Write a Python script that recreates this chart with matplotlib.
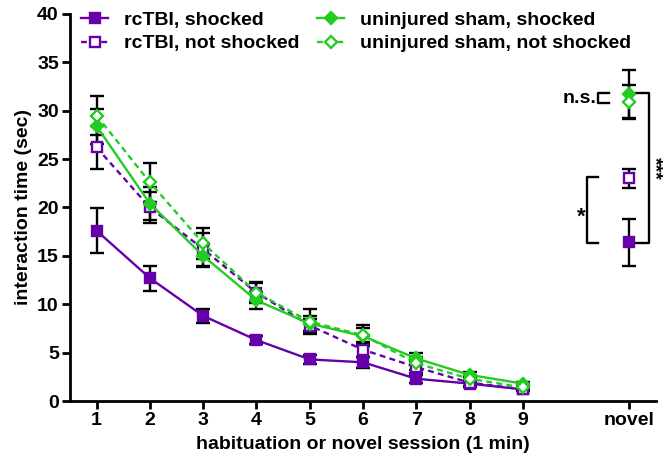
import matplotlib.pyplot as plt

plt.rcParams['font.family'] = ['Liberation Sans', 'DejaVu Sans']
plt.rcParams['font.weight'] = 'bold'

sessions = [1, 2, 3, 4, 5, 6, 7, 8, 9]
novel_pos = 11
tick_labels = ['1', '2', '3', '4', '5', '6', '7', '8', '9', 'novel']

# habituation sessions 1-9, then novel value separately
tbi_shock = [17.6, 12.7, 8.8, 6.3, 4.3, 4.0, 2.3, 1.8, 1.2]
tbi_shock_err = [2.3, 1.3, 0.7, 0.4, 0.5, 0.6, 0.4, 0.3, 0.2]
tbi_shock_novel, tbi_shock_novel_err = 16.4, 2.4

tbi_noshock = [26.2, 20.0, 15.7, 11.2, 7.8, 5.3, 3.5, 1.9, 1.2]
tbi_noshock_err = [2.2, 1.6, 1.7, 1.0, 0.7, 0.8, 0.6, 0.3, 0.2]
tbi_noshock_novel, tbi_noshock_novel_err = 23.0, 1.0

sham_shock = [28.4, 20.4, 15.0, 10.4, 8.0, 6.7, 4.4, 2.7, 1.8]
sham_shock_err = [1.8, 1.7, 1.2, 0.9, 0.8, 0.8, 0.6, 0.3, 0.2]
sham_shock_novel, sham_shock_novel_err = 31.7, 2.5

sham_noshock = [29.5, 22.6, 16.3, 11.2, 8.2, 6.8, 3.9, 2.3, 1.4]
sham_noshock_err = [2.0, 2.0, 1.6, 1.1, 1.3, 1.1, 0.7, 0.3, 0.2]
sham_noshock_novel, sham_noshock_novel_err = 30.9, 1.8

purple = '#6600aa'
green = '#22cc22'

fig = plt.figure(figsize=(6.69, 4.65), dpi=100)
ax = fig.add_axes([0.1046, 0.1376, 0.876, 0.8324])

series = [
    ('rcTBI, shocked', tbi_shock, tbi_shock_err, tbi_shock_novel, tbi_shock_novel_err, purple, '-', 's', purple),
    ('rcTBI, not shocked', tbi_noshock, tbi_noshock_err, tbi_noshock_novel, tbi_noshock_novel_err, purple, (0, (2.5, 1.8)), 's', 'white'),
    ('uninjured sham, shocked', sham_shock, sham_shock_err, sham_shock_novel, sham_shock_novel_err, green, '-', 'D', green),
    ('uninjured sham, not shocked', sham_noshock, sham_noshock_err, sham_noshock_novel, sham_noshock_novel_err, green, (0, (2.5, 1.8)), 'D', 'white'),
]

for label, vals, errs, nv, ne, col, ls, mk, mfc in series:
    ms = 6.5 if mk == 's' else 6
    ax.errorbar(sessions + [novel_pos], vals + [nv], yerr=errs + [ne], fmt='none',
                ecolor='black', elinewidth=1.7, capsize=5, capthick=1.7, zorder=2)
    ax.plot(sessions, vals, color=col, linestyle=ls, linewidth=1.7, marker=mk,
            markersize=ms, markerfacecolor=mfc, markeredgecolor=col, markeredgewidth=1.7,
            label=label, zorder=3)
    ax.plot([novel_pos], [nv], linestyle='none', marker=mk, markersize=ms,
            markerfacecolor=mfc, markeredgecolor=col, markeredgewidth=1.7, zorder=3)

ax.set_xlim(0.5, 11.5)
ax.set_ylim(0, 40)
ax.set_xticks(sessions + [novel_pos])
ax.set_xticklabels(tick_labels)
ax.set_yticks(range(0, 41, 5))
ax.tick_params(axis='both', direction='out', length=6, width=2, labelsize=14, pad=2)
for s in ['top', 'right']:
    ax.spines[s].set_visible(False)
for s in ['left', 'bottom']:
    ax.spines[s].set_linewidth(2)

ax.set_xlabel('habituation or novel session (1 min)', fontsize=14, fontweight='bold', labelpad=5)
ax.set_ylabel('interaction time (sec)', fontsize=14, fontweight='bold', labelpad=4)

# significance brackets
kw = dict(color='black', linewidth=1.7, clip_on=False)
ax.plot([10.62, 10.42, 10.42, 10.62], [31.8, 31.8, 30.8, 30.8], **kw)
ax.text(10.39, 31.3, 'n.s.', ha='right', va='center', fontsize=14, fontweight='bold')
ax.plot([10.42, 10.2, 10.2, 10.42], [23.1, 23.1, 16.3, 16.3], **kw)
ax.text(10.09, 19.0, '*', ha='center', va='center', fontsize=16, fontweight='bold')
ax.plot([11.12, 11.36, 11.36, 11.12], [31.8, 31.8, 16.3, 16.3], **kw)
ax.text(11.47, 24.0, '***', ha='center', va='center', rotation=270, fontsize=14,
        fontweight='bold', clip_on=False)

ax.legend(loc='upper left', bbox_to_anchor=(0.006, 1.027), ncol=2, frameon=False,
          fontsize=14, handlelength=1.4, handletextpad=0.8, columnspacing=0.9,
          labelspacing=0.3, borderaxespad=0)

fig.savefig('out.png', dpi=100)
